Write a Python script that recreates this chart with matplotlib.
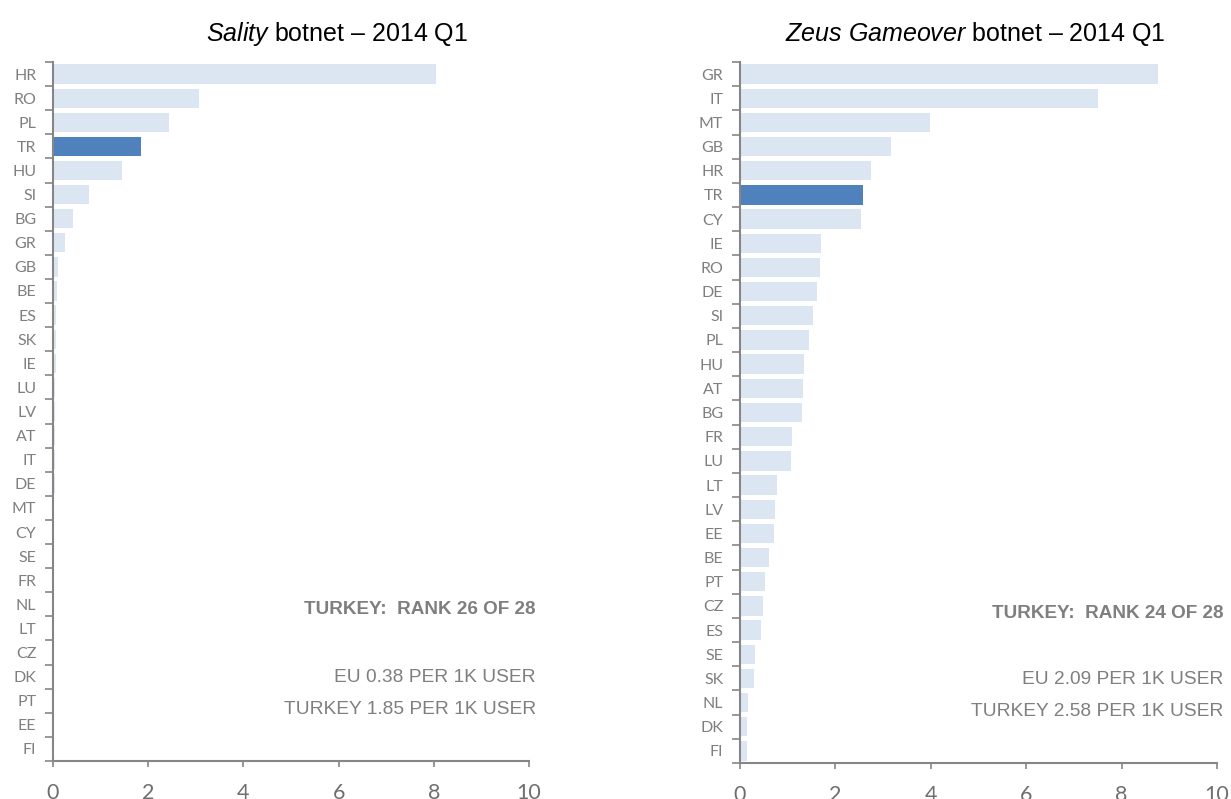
import matplotlib
matplotlib.use("Agg")
import matplotlib.pyplot as plt
import numpy as np

plt.rcParams["font.family"] = ["Liberation Sans", "DejaVu Sans"]
plt.rcParams["mathtext.fontset"] = "custom"
plt.rcParams["mathtext.rm"] = "Liberation Sans"
plt.rcParams["mathtext.it"] = "Liberation Sans:italic"

# Data (top to bottom), infected machines per 1k users
sality_countries = ["HR", "RO", "PL", "TR", "HU", "SI", "BG", "GR", "GB", "BE",
                    "ES", "SK", "IE", "LU", "LV", "AT", "IT", "DE", "MT", "CY",
                    "SE", "FR", "NL", "LT", "CZ", "DK", "PT", "EE", "FI"]
sality_values = [8.04, 3.07, 2.44, 1.85, 1.45, 0.76, 0.42, 0.25, 0.11, 0.08,
                 0.07, 0.06, 0.06, 0.05, 0.05, 0.04, 0.04, 0.04, 0.02, 0.02,
                 0.01, 0.01, 0.01, 0.0, 0.0, 0.0, 0.0, 0.0, 0.0]

zeus_countries = ["GR", "IT", "MT", "GB", "HR", "TR", "CY", "IE", "RO", "DE",
                  "SI", "PL", "HU", "AT", "BG", "FR", "LU", "LT", "LV", "EE",
                  "BE", "PT", "CZ", "ES", "SE", "SK", "NL", "DK", "FI"]
zeus_values = [8.77, 7.51, 3.98, 3.17, 2.74, 2.58, 2.53, 1.70, 1.67, 1.61,
               1.53, 1.44, 1.34, 1.32, 1.30, 1.10, 1.07, 0.77, 0.74, 0.72,
               0.61, 0.52, 0.49, 0.45, 0.32, 0.30, 0.16, 0.15, 0.15]

x_ticks = [0, 2, 4, 6, 8, 10]

W, H = 1231, 799
LIGHT = "#dce6f2"
DARK = "#4f81bd"
GREY = "#7f7f7f"
AXIS = "#868686"


def px(x, y):
    return x / W, 1 - y / H


def draw_panel(ax, countries, values):
    n = len(countries)
    y = np.arange(n)
    colors = [DARK if c == "TR" else LIGHT for c in countries]
    ax.barh(y, values, height=0.8, color=colors, edgecolor="none")
    ax.set_ylim(n - 0.5, -0.5)
    ax.set_xlim(0, 10)
    ax.set_yticks(y)
    ax.set_yticklabels(countries, fontsize=11.5, color=GREY, family="Lato")
    ax.set_yticks(np.arange(n + 1) - 0.5, minor=True)
    ax.tick_params(axis="y", which="major", length=0, pad=12)
    ax.tick_params(axis="y", which="minor", length=6, width=1.2, color=AXIS)
    ax.set_xticks(x_ticks)
    ax.set_xticklabels([str(t) for t in x_ticks], fontsize=15.5, color="#6f6f6f",
                       family="Lato")
    ax.tick_params(axis="x", length=4.5, width=1.2, color=AXIS, pad=11)
    for s in ["top", "right"]:
        ax.spines[s].set_visible(False)
    for s in ["left", "bottom"]:
        ax.spines[s].set_color(AXIS)
        ax.spines[s].set_linewidth(1.5)


fig = plt.figure(figsize=(W / 100, H / 100), dpi=100)

ax1 = fig.add_axes([53 / W, 1 - 761 / H, 476 / W, 699 / H])
draw_panel(ax1, sality_countries, sality_values)

ax2 = fig.add_axes([740 / W, 1 - 763 / H, 477 / W, 701 / H])
draw_panel(ax2, zeus_countries, zeus_values)

# Titles
fig.text(*px(337, 34), r"$\it{Sality}$ botnet – 2014 Q1", ha="center",
         va="center", fontsize=18, color="black")
fig.text(*px(975, 34), r"$\it{Zeus\ Gameover}$ botnet – 2014 Q1", ha="center",
         va="center", fontsize=18, color="black")

# Annotations
fig.text(*px(536, 610), "TURKEY:  RANK 26 OF 28", ha="right", va="center",
         fontsize=13.6, fontweight="bold", color=GREY)
fig.text(*px(536, 677), "EU 0.38 PER 1K USER", ha="right", va="center",
         fontsize=13.8, color=GREY)
fig.text(*px(536, 710), "TURKEY 1.85 PER 1K USER", ha="right", va="center",
         fontsize=13.8, color=GREY)

fig.text(*px(1223, 613), "TURKEY:  RANK 24 OF 28", ha="right", va="center",
         fontsize=13.6, fontweight="bold", color=GREY)
fig.text(*px(1223, 680), "EU 2.09 PER 1K USER", ha="right", va="center",
         fontsize=13.8, color=GREY)
fig.text(*px(1223, 712), "TURKEY 2.58 PER 1K USER", ha="right", va="center",
         fontsize=13.8, color=GREY)

fig.savefig("out.png", dpi=100, facecolor="white")
